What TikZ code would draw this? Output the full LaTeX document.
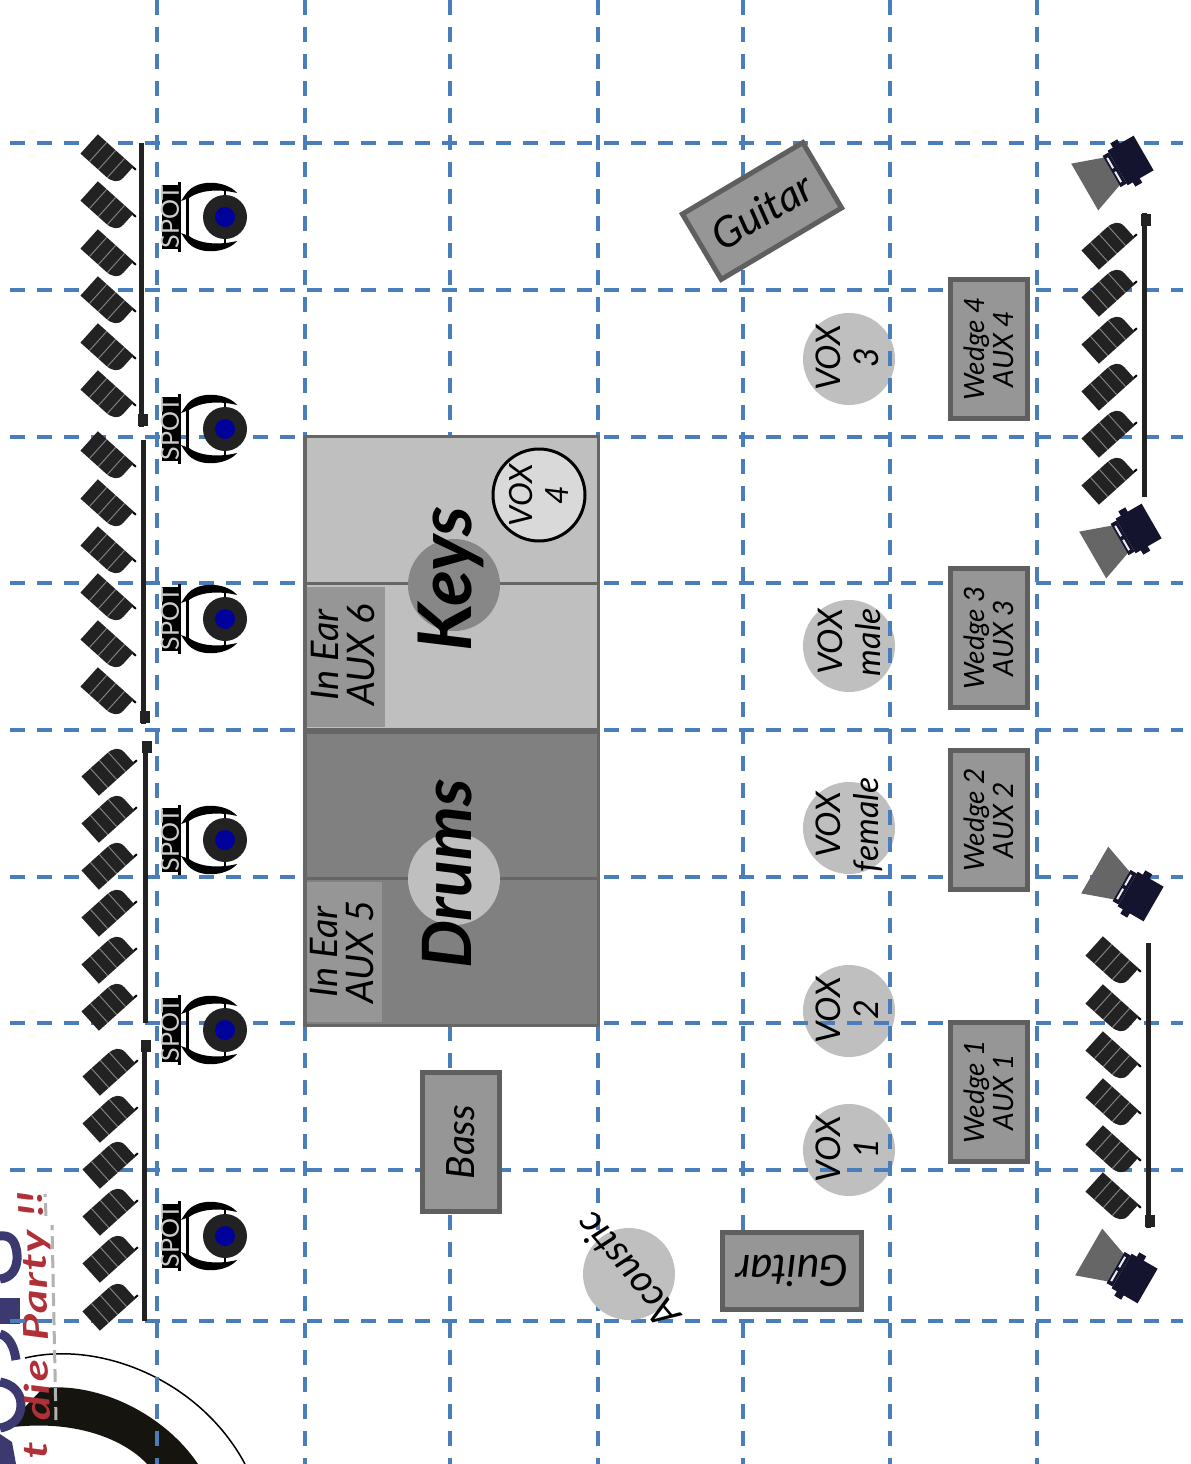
\documentclass[tikz,border=0pt]{standalone}
\usepackage{fontspec}
\setmainfont{Lato}
\newfontfamily\logofont[FakeStretch=1.35,LetterSpace=4]{Lato}
\newcommand{\tfs}[1]{\fontsize{#1}{#1}\selectfont\itshape}
\definecolor{gridblue}{HTML}{4A7EBB}
\definecolor{boxfill}{HTML}{969696}
\definecolor{boxline}{HTML}{5F5F5F}
\definecolor{stageline}{HTML}{666666}
\definecolor{voxgray}{HTML}{BFBFBF}
\definecolor{lampblack}{HTML}{222222}
\definecolor{navy}{HTML}{14142E}
\definecolor{spotblue}{HTML}{00009A}
\definecolor{logored}{HTML}{B03038}
\definecolor{logopurple}{HTML}{3C3870}
\definecolor{ringblack}{HTML}{15140F}
\tikzset{
  x=1pt,y=-1pt,
  gridline/.style={gridblue,line width=3.4pt,dash pattern=on 15pt off 12pt},
  voxdisc/.style={circle,fill=voxgray,minimum size=92pt,inner sep=0pt},
  vert/.style={rotate=90,align=center},
  logotxt/.style={anchor=base,rotate=92,inner sep=0pt,text=logored,font=\logofont\fontsize{34}{34}\selectfont\bfseries\itshape},
  lamp/.pic={
    \fill[lampblack] (-24,-13) -- (24,-13) -- (24,2) .. controls (24,10) and (18,13) .. (10,13) -- (-24,13) -- cycle;
    \draw[black!50,line width=1pt] (-12,-13) -- (-12,13) (0,-13) -- (0,13) (12,-13) -- (12,13);
    \draw[black,line width=2pt] (24,-12) -- (28,-12);
  },
  spotlamp/.pic={
    \fill[black] (-63,-32) rectangle (-45,32);
    \fill[black] (-47,-35) rectangle (-44,35);
    \draw[black,line width=3pt] (-38,-22) -- (-38,22);
    \fill[black] (-44,-16) -- (-40,-22) .. controls (-33,-33) and (-20,-35) .. (-10,-34) .. controls (0,-33) and (8,-29) .. (12,-24) .. controls (0,-27) and (-22,-29) .. (-36,-19) -- cycle;
    \fill[black] (-44,16) -- (-40,22) .. controls (-33,33) and (-20,35) .. (-10,34) .. controls (0,33) and (8,29) .. (12,24) .. controls (0,27) and (-22,29) .. (-36,19) -- cycle;
    \draw[black,line width=2pt] (0,-30) -- (0,-20) (0,30) -- (0,20);
    \fill[lampblack] (0,0) circle[radius=22];
    \fill[spotblue] (0,0) circle[radius=10];
    \node[rotate=90,text=white!80!black,inner sep=0pt,font=\fontsize{25}{25}\selectfont] at (-55,0) {SPOT};
  },
  floodlamp/.pic={
    \fill[stageline] (19,-16) -- (50,-27) -- (50,27) -- (19,16) -- cycle;
    \fill[navy] (-18,-20) rectangle (12,20);
    \fill[navy] (-2,-25) rectangle (6,25);
    \fill[navy] (12,-18) rectangle (19,18);
    \draw[white!85!gray,line width=2pt] (16,-14) -- (16,-2) (16,2) -- (16,14);
  },
  lampbar/.style={lampblack,line width=5pt},
}
\begin{document}
\begin{tikzpicture}
\useasboundingbox (0,0) rectangle (1191,1464);
\fill[white] (0,0) rectangle (1191,1464);

% logo
\begin{scope}
\clip (0,0) rectangle (1191,1464);
\draw[black,line width=1.5pt] (25,1358) .. controls (100,1340) and (200,1380) .. (245,1464);
\fill[ringblack] (43,1388) .. controls (100,1382) and (165,1415) .. (198,1464) -- (147,1464) .. controls (125,1440) and (75,1418) .. (5,1428) -- cycle;
\draw[logopurple,line width=9pt] (0,1236) .. controls (8,1235) and (16,1238) .. (17,1255) .. controls (18,1270) and (10,1278) .. (0,1279);
\fill[logopurple] (0,1298) rectangle (20,1324);
\draw[logopurple,line width=9pt] (0,1334) .. controls (8,1336) and (14,1345) .. (16,1360);
\draw[logopurple,line width=9pt] (0,1382) .. controls (12,1384) and (21,1392) .. (21,1405) .. controls (21,1418) and (12,1426) .. (0,1428);
\fill[logopurple] (0,1434) -- (12,1442) -- (16,1464) -- (0,1464) -- cycle;
\draw[gray!60,line width=3pt,dash pattern=on 13pt off 6pt] (56,1420) -- (52,1225) (46,1216) -- (45,1194);
\node[logotxt] (logoone) at (47,1450) {t};
\node[logotxt] (logotwo) at (49,1390) {die};
\node[logotxt] (logothree) at (47,1285) {Party};
\node[logotxt] (logofour) at (43,1204) {!!};
\end{scope}

% VOX discs lie under the grid
\node[voxdisc] (d3) at (849,359) {};
\node[voxdisc] (dm) at (849,646) {};
\node[voxdisc] (df) at (849,828) {};
\node[voxdisc] (d2) at (849,1011) {};
\node[voxdisc] (d1) at (849,1150) {};

% grid
\foreach \gx in {157,305,450,598,743,890,1037} \draw[gridline] (\gx,0) -- (\gx,1464);
\foreach \gy in {143,290,437,583,730,877,1023,1170,1321} \draw[gridline] (10,\gy) -- (1183,\gy);

% VOX labels
\node[vert,font=\tfs{34},inner sep=0pt] (v3) at (847,358) {VOX\\[4pt]3};
\node[vert,font=\tfs{34},inner sep=0pt] (vm) at (849,642) {VOX\\[4pt]male};
\node[vert,font=\tfs{34},inner sep=0pt] (vf) at (849,825) {VOX\\[4pt]female};
\node[vert,font=\tfs{34},inner sep=0pt] (v2) at (847,1010) {VOX\\[4pt]2};
\node[vert,font=\tfs{34},inner sep=0pt] (v1) at (847,1149) {VOX\\[4pt]1};

% stage
\fill[stageline] (303,435) rectangle (600,1027);
\node[fill=voxgray,minimum size=290pt,inner sep=0pt] (keys) at (451.5,583) {};
\draw[stageline,line width=3pt] (keys.west) -- (keys.east);
\fill[boxfill] (307,587) rectangle (385,727);
\node[circle,fill=black!47,minimum size=92pt,inner sep=0pt] (keydisc) at (454,585) {};
\node[circle,draw=black,fill=black!15,line width=3pt,minimum size=92pt,inner sep=0pt] (vox4) at (539,495) {};
\node[vert,font=\tfs{32},inner sep=0pt] at (vox4) {VOX\\[4pt]4};
\node[rotate=90,font=\tfs{74}\bfseries,inner sep=0pt] (keystext) at (451,579) {Keys};
\node[vert,font=\tfs{38},inner sep=0pt] (ear6) at (343,655) {In Ear\\[-2pt]AUX 6};

\node[fill=black!50,minimum size=290pt,inner sep=0pt] (drums) at (451.5,878.5) {};
\draw[stageline,line width=3pt] (drums.west) -- (drums.east);
\fill[boxfill] (307,882) rectangle (382,1022);
\node[circle,fill=voxgray,minimum size=92pt,inner sep=0pt] (drumdisc) at (454,879) {};
\node[rotate=90,font=\tfs{68}\bfseries,inner sep=0pt] (drumstext) at (447,874) {Drums};
\node[vert,font=\tfs{38},inner sep=0pt] (ear5) at (342,952) {In Ear\\[-2pt]AUX 5};

% monitors and amps
\foreach \nm/\yc in {w4/349,w3/638,w2/820,w1/1092}
  \node[draw=boxline,fill=boxfill,line width=5pt,minimum width=77pt,minimum height=139pt,inner sep=0pt] (\nm) at (988.5,\yc) {};
\node[vert,font=\tfs{28},inner sep=0pt] at (w4) {Wedge 4\\[1pt]AUX 4};
\node[vert,font=\tfs{28},inner sep=0pt] at (w3) {Wedge 3\\[1pt]AUX 3};
\node[vert,font=\tfs{28},inner sep=0pt] at (w2) {Wedge 2\\[1pt]AUX 2};
\node[vert,font=\tfs{28},inner sep=0pt] at (w1) {Wedge 1\\[1pt]AUX 1};

\node[draw=boxline,fill=boxfill,line width=5pt,minimum width=77pt,minimum height=139pt,inner sep=0pt] (bass) at (461,1142) {};
\node[rotate=90,font=\tfs{39},inner sep=0pt] at (bass) {Bass};
\node[draw=boxline,fill=boxfill,line width=5pt,minimum width=139pt,minimum height=77pt,inner sep=0pt] (guitarb) at (792,1270.5) {};
\node[rotate=180,font=\tfs{43},inner sep=0pt] at (guitarb) {Guitar};
\node[draw=boxline,fill=boxfill,line width=5pt,minimum width=140pt,minimum height=76pt,inner sep=0pt,rotate=30.7] (guitart) at (762,211) {};
\node[rotate=30.7,font=\tfs{42},inner sep=0pt] at (guitart) {Guitar};

\node[voxdisc] (acoustic) at (629,1274) {};
\node[rotate=130,font=\tfs{39},inner sep=0pt] at (627,1271) {Acoustic};

% lamp bars
\foreach \bx/\ya/\yb/\yf in {141/143/427/420,143/440/724/717,1144/213/497/220,145/741/1023/747,144/1040/1321/1046,1148/943/1228/1221}{
  \draw[lampbar] (\bx,\ya) -- (\bx,\yb);
  \fill[lampblack] (\bx-3,\yf-6) rectangle (\bx+7,\yf+6);
}
\foreach \ly in {160,207,255,302,349,396,457,505,552,599,646,693}
  \pic[rotate=-42] at (107,\ly) {lamp};
\foreach \ly in {770,817,864,911,958,1005}
  \pic[rotate=42,yscale=-1] at (108,\ly) {lamp};
\foreach \ly in {1070,1117,1163,1210,1257,1305}
  \pic[rotate=42,yscale=-1] at (109,\ly) {lamp};
\foreach \ly in {244,291,338,385,432,479}
  \pic[rotate=42,yscale=-1] at (1108,\ly) {lamp};
\foreach \ly in {962,1010,1057,1104,1151,1198}
  \pic[rotate=-42] at (1112,\ly) {lamp};

% spots
\foreach \sy in {217,429,619,840,1030,1236}
  \pic at (225,\sy) {spotlamp};

% floods
\pic[rotate=210] at (1128,162) {floodlamp};
\pic[rotate=210] at (1136,530) {floodlamp};
\pic[rotate=150] at (1138,895) {floodlamp};
\pic[rotate=150] at (1132,1277) {floodlamp};
\end{tikzpicture}
\end{document}
